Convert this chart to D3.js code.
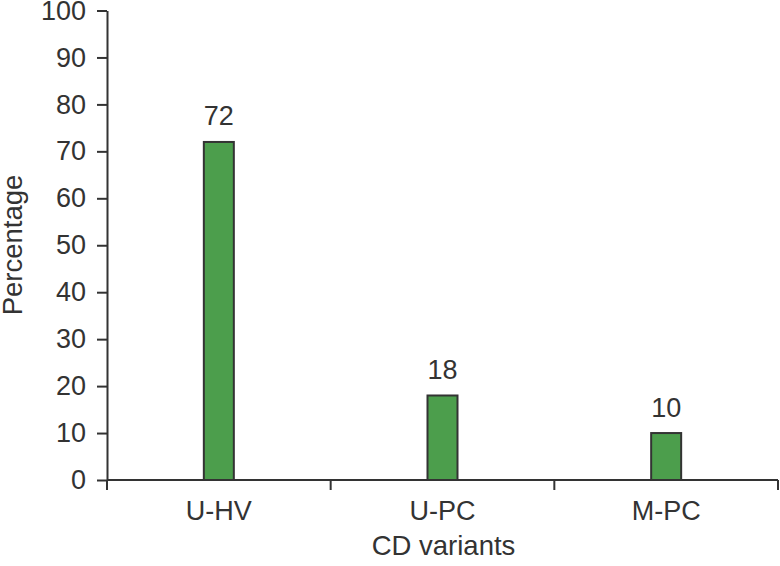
<!DOCTYPE html>
<html><head><meta charset="utf-8">
<script src="https://cdn.jsdelivr.net/npm/d3@7"></script>
<style>body{margin:0;background:#fff}svg{display:block}text{font-family:"Liberation Sans",Arial,sans-serif;fill:#333}</style>
</head><body><svg id="c" width="780" height="566"></svg>
<script>
const categories = ["U-HV","U-PC","M-PC"];
const values = [72,18,10];
const yTicks = [0,10,20,30,40,50,60,70,80,90,100];

(function(){
const svg = d3.select("#c");
const mLeft=107, mRight=778, mTop=10.5, mBottom=480;
const fs = "27px";
const x = d3.scaleBand().domain(categories).range([mLeft,mRight]);
const y = d3.scaleLinear().domain([0,100]).range([mBottom,mTop]);
const col="#333";

// y axis
const ya = svg.append("g").attr("transform",`translate(${mLeft},0)`).call(d3.axisLeft(y).tickValues(yTicks).tickSize(10).tickPadding(11).tickSizeOuter(0));
ya.select(".domain").attr("stroke",col).attr("stroke-width",2);
ya.selectAll(".tick line").attr("stroke",col).attr("stroke-width",2);
ya.selectAll(".tick text").style("font-size",fs).style("font-family","'Liberation Sans',Arial,sans-serif").style("fill",col);

// x axis
const xa = svg.append("g").attr("transform",`translate(0,${mBottom})`);
xa.append("line").attr("x1",mLeft).attr("x2",mRight).attr("stroke",col).attr("stroke-width",2);
const bounds = [mLeft, ...categories.map(c=>x(c)+x.bandwidth())];
xa.selectAll("line.t").data(bounds).join("line").attr("class","t")
  .attr("x1",d=>d).attr("x2",d=>d).attr("y1",0).attr("y2",10).attr("stroke",col).attr("stroke-width",2);
xa.selectAll("text").data(categories).join("text")
  .attr("x",d=>x(d)+x.bandwidth()/2).attr("y",40).attr("text-anchor","middle").style("font-size",fs).text(d=>d);

// bars
const bw = 30;
svg.selectAll("rect.bar").data(values).join("rect").attr("class","bar")
  .attr("x",(d,i)=>x(categories[i])+x.bandwidth()/2-bw/2)
  .attr("y",d=>y(d)).attr("width",bw).attr("height",d=>mBottom-y(d))
  .attr("fill","#4c9e4c").attr("stroke",col).attr("stroke-width",2);

svg.selectAll("text.val").data(values).join("text").attr("class","val")
  .attr("x",(d,i)=>x(categories[i])+x.bandwidth()/2).attr("y",d=>y(d)-16.5)
  .attr("text-anchor","middle").style("font-size",fs).text(d=>d);

svg.append("text").attr("x",443.5).attr("y",555).attr("text-anchor","middle").style("font-size","27.5px").text("CD variants");
svg.append("text").attr("transform","translate(22,245) rotate(-90)").attr("text-anchor","middle").style("font-size","27.5px").text("Percentage");
})();
</script></body></html>
